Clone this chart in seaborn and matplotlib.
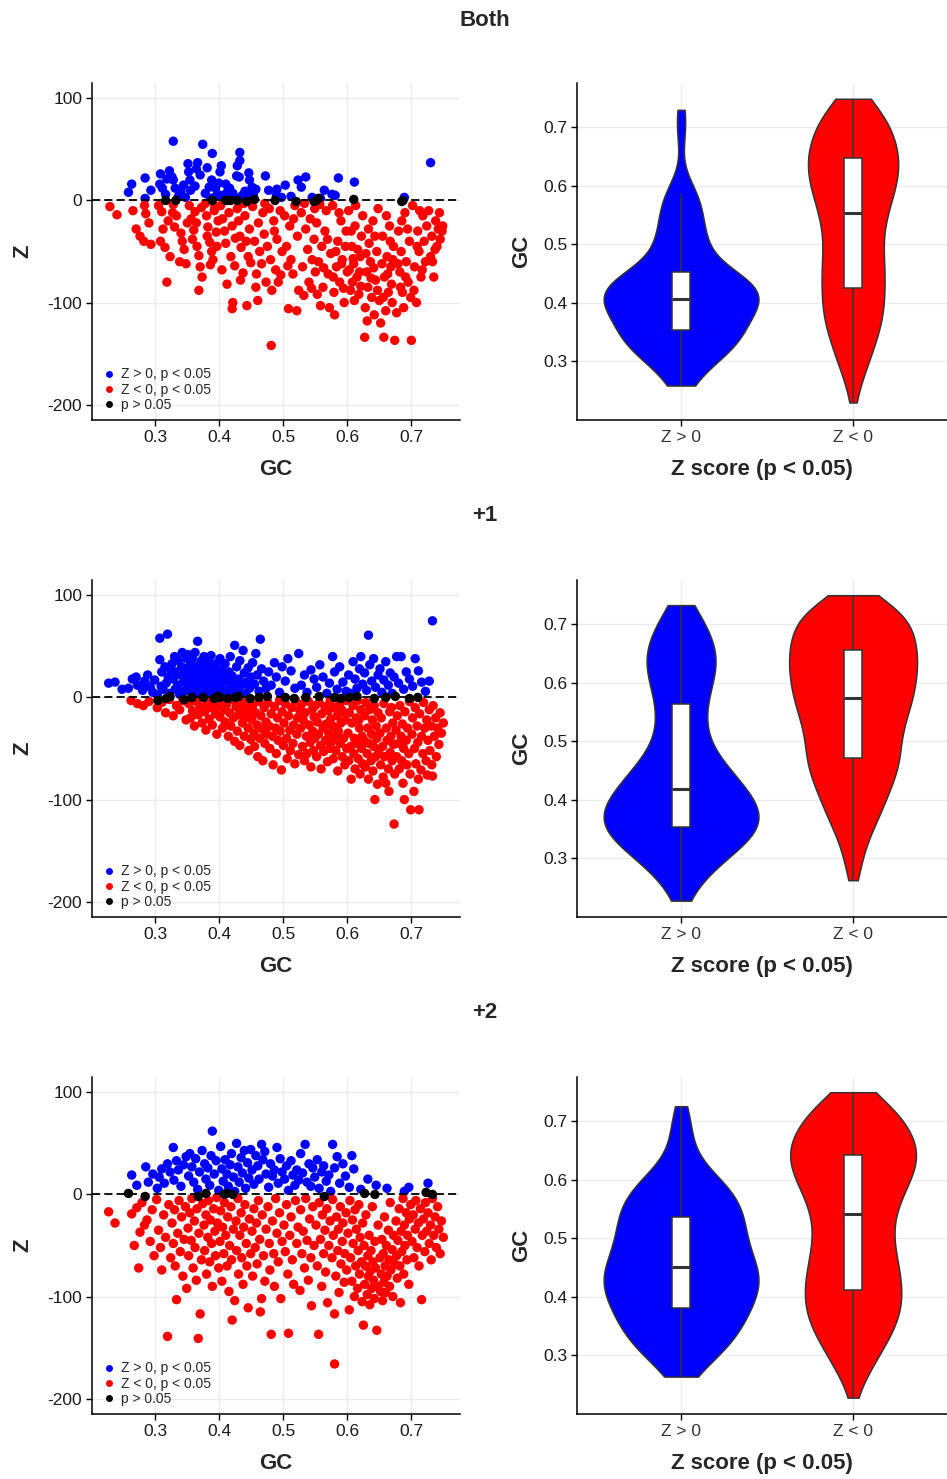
import numpy as np
import pandas as pd
import matplotlib
matplotlib.use("Agg")
import matplotlib.pyplot as plt
import seaborn as sns
from matplotlib.lines import Line2D

sns.set_theme(style="whitegrid")
plt.rcParams["font.family"] = ["Liberation Sans", "DejaVu Sans"]

# ---------------- data: (GC, Z) pairs ----------------
panel_titles = ["Both", "+1", "+2"]
class_labels = ["Z > 0, p < 0.05", "Z < 0, p < 0.05", "p > 0.05"]
violin_labels = ["Z > 0", "Z < 0"]
x_ticks = [0.3, 0.4, 0.5, 0.6, 0.7]
x_tick_labels = ["0.3", "0.4", "0.5", "0.6", "0.7"]
z_ticks = [100, 0, -100, -200]
z_tick_labels = ["100", "0", "-100", "-200"]

both_pos = [(.258,8),(.263,16),(.284,22),(.284,2),(.293,10),(.307,16),(.308,26),(.311,12),(.316,6),(.322,29),(.318,21),
    (.328,58),(.326,23),(.328,20),(.331,12),(.336,4),(.344,15),(.340,9),(.347,3),
    (.351,36),(.352,28),(.354,20),(.355,10),(.362,14),(.364,31),(.366,37),(.370,25),(.374,55),
    (.378,7),(.381,32),(.384,13),(.388,20),(.389,46),(.394,12),(.392,3),(.397,6),(.386,2),(.399,17),
    (.401,28),(.403,34),(.405,5),(.410,16),(.413,9),(.416,12),(.419,4),(.421,7),(.424,3),(.408,2),(.418,2),
    (.427,24),(.428,34),(.431,23),(.432,39),(.432,47),(.440,9),(.447,20),(.436,5),(.442,3),(.446,27),(.449,8),
    (.451,13),(.457,11),(.453,6),(.472,24),(.477,10),(.490,11),(.489,5),(.497,3),
    (.503,15),(.523,20),(.512,4),(.535,23),(.528,13),(.545,3),(.564,10),(.558,2),
    (.576,6),(.586,22),(.581,5),(.611,18),(.689,3),(.730,37)]
both_neg = [(.229,-6),(.240,-14),(.265,-10),(.270,-28),(.276,-35),(.283,-5),(.285,-13),(.282,-40),(.293,-43),(.290,-22),
    (.305,-5),(.310,-11),(.312,-28),(.308,-40),(.315,-46),(.320,-20),(.318,-80),(.323,-55),
    (.328,-4),(.333,-15),(.330,-26),(.340,-32),(.345,-48),(.338,-60),(.348,-62),(.342,-40),(.327,-12),(.350,-22),
    (.353,-5),(.356,-18),(.360,-29),(.358,-38),(.362,-11),(.365,-45),(.368,-54),(.370,-65),(.372,-7),(.368,-88),(.373,-75),(.364,-22),
    (.378,-3),(.380,-15),(.382,-26),(.385,-41),(.388,-50),(.390,-58),(.392,-10),(.395,-31),(.398,-20),(.386,-63),(.396,-45),(.381,-35),(.393,-6),
    (.402,-5),(.405,-18),(.404,-68),(.408,-30),(.410,-42),(.412,-82),(.415,-12),(.418,-55),(.420,-25),(.421,-100),(.420,-106),(.424,-64),(.425,-37),
    (.428,-8),(.430,-20),(.432,-35),(.434,-46),(.437,-71),(.440,-15),(.443,-103),(.445,-55),(.447,-28),(.449,-61),(.438,-3),(.442,-40),(.433,-78),
    (.452,-6),(.455,-40),(.458,-72),(.460,-98),(.461,-22),(.463,-50),(.466,-62),(.468,-12),(.470,-33),(.473,-80),(.475,-45),(.457,-85),(.471,-3),
    (.478,-8),(.481,-142),(.480,-58),(.482,-88),(.485,-20),(.488,-68),(.490,-38),(.492,-80),(.495,-10),(.498,-50),(.486,-30),(.496,-73),
    (.502,-15),(.505,-45),(.508,-106),(.510,-25),(.512,-58),(.515,-72),(.518,-5),(.521,-108),(.522,-35),(.524,-88),(.507,-64),(.516,-18),
    (.528,-12),(.530,-65),(.532,-93),(.535,-28),(.538,-48),(.540,-80),(.542,-18),(.545,-58),(.548,-38),(.550,-70),(.549,-8),(.533,-3),(.544,-86),
    (.552,-22),(.555,-60),(.558,-103),(.560,-45),(.562,-85),(.565,-30),(.567,-10),(.570,-72),(.572,-105),(.574,-52),(.557,-4),(.563,-66),(.569,-38),(.553,-92),
    (.577,-5),(.580,-112),(.579,-90),(.583,-65),(.585,-40),(.588,-80),(.590,-20),(.592,-58),(.595,-100),(.598,-30),(.600,-70),(.582,-50),(.587,-12),(.594,-86),(.597,-45),(.578,-75),(.591,-62),
    (.602,-10),(.605,-88),(.607,-45),(.610,-62),(.612,-25),(.615,-75),(.618,-92),(.620,-55),(.622,-35),(.624,-15),(.608,-80),(.616,-48),(.603,-68),(.611,-98),(.619,-70),(.606,-30),(.613,-5),(.621,-84),(.609,-57),
    (.627,-134),(.628,-105),(.630,-70),(.632,-85),(.634,-42),(.636,-60),(.638,-95),(.640,-20),(.642,-112),(.644,-78),(.646,-50),(.648,-8),(.650,-98),(.633,-28),(.641,-66),(.647,-88),(.629,-52),(.637,-76),(.643,-35),(.631,-118),
    (.652,-120),(.655,-35),(.657,-134),(.658,-75),(.660,-108),(.662,-55),(.664,-90),(.666,-25),(.668,-65),(.670,-100),(.672,-45),(.674,-137),(.661,-15),(.669,-82),(.654,-62),(.663,-72),(.671,-58),(.656,-95),(.667,-40),
    (.677,-110),(.680,-30),(.682,-70),(.684,-50),(.686,-90),(.688,-105),(.690,-12),(.692,-60),(.695,-80),(.697,-40),(.700,-137),(.699,-95),(.685,-20),(.679,-62),(.691,-75),(.694,-28),(.683,-85),
    (.702,-5),(.705,-65),(.708,-100),(.710,-30),(.712,-50),(.715,-75),(.718,-15),(.720,-40),(.722,-60),(.724,-25),(.704,-88),(.713,-10),(.717,-68),(.709,-45),
    (.727,-10),(.730,-55),(.732,-35),(.735,-75),(.738,-20),(.740,-45),(.742,-28),(.745,-38),(.748,-30),(.749,-25),(.733,-60),(.737,-48),(.744,-12)]
both_ns = [(.316,0),(.332,0),(.389,0),(.410,0),(.413,0),(.418,0),(.428,0),(.443,-1),(.455,1),(.487,0),(.520,-1),(.548,-1),(.552,0),(.555,2),(.610,1),(.685,-1),(.687,0)]

p1_pos = [(.227,14),(.237,15),(.248,8),(.258,9),(.264,18),(.270,20),(.272,12),
    (.280,7),(.283,16),(.286,13),(.288,22),(.292,10),(.296,5),(.299,17),
    (.303,3),(.307,58),(.307,37),(.310,25),(.312,8),(.315,30),(.317,14),(.319,62),(.320,20),(.322,4),(.324,27),(.309,11),
    (.326,33),(.328,18),(.330,40),(.331,8),(.333,25),(.335,12),(.336,36),(.338,3),(.339,22),(.341,30),(.342,44),(.344,15),(.345,6),(.346,28),(.348,20),(.349,38),(.334,10),
    (.351,42),(.352,11),(.353,25),(.355,33),(.356,5),(.357,18),(.358,38),(.360,28),(.361,14),(.362,44),(.363,8),(.365,22),(.366,55),(.367,31),(.369,3),(.370,17),(.372,36),(.373,25),(.374,12),
    (.376,40),(.377,6),(.378,20),(.380,30),(.381,13),(.383,35),(.384,9),(.385,24),(.387,41),(.388,16),(.390,4),(.391,28),(.393,19),(.395,33),(.396,11),(.397,7),(.399,23),(.386,2),
    (.401,38),(.402,14),(.404,27),(.406,8),(.407,20),(.409,33),(.411,5),(.413,16),(.415,25),(.417,40),(.418,10),(.420,21),(.422,3),(.424,51),(.423,13),
    (.427,30),(.429,7),(.431,18),(.432,36),(.434,12),(.437,46),(.439,24),(.441,4),(.443,15),(.445,29),(.447,9),(.449,20),
    (.452,34),(.455,13),(.457,43),(.459,22),(.462,6),(.464,57),(.466,28),(.469,16),(.473,9),
    (.477,25),(.481,12),(.486,34),(.489,20),(.494,5),(.498,30),
    (.503,16),(.507,38),(.512,26),(.518,9),(.524,43),
    (.528,12),(.533,22),(.537,5),(.543,27),(.548,18),
    (.552,10),(.557,32),(.562,20),(.568,4),(.572,14),
    (.577,40),(.580,25),(.584,8),(.588,30),(.593,15),(.598,6),
    (.602,22),(.605,4),(.609,35),(.612,18),(.615,9),(.619,28),(.621,40),(.624,13),
    (.627,24),(.630,7),(.633,61),(.635,32),(.638,16),(.641,38),(.644,10),(.648,22),
    (.651,28),(.654,5),(.657,17),(.660,35),(.664,12),(.667,24),(.670,4),(.673,20),
    (.677,40),(.680,14),(.684,40),(.688,8),(.692,25),(.697,18),
    (.702,11),(.706,38),(.711,26),(.716,15),(.722,6),(.728,16),(.733,75)]
p1_neg = [(.262,-3),(.272,-6),(.281,-8),(.290,-4),(.303,-10),(.310,-5),(.316,-15),(.322,-2),
    (.328,-18),(.333,-8),(.338,-12),(.343,-3),(.348,-22),
    (.352,-6),(.355,-20),(.358,-13),(.361,-28),(.364,-4),(.367,-17),(.370,-9),(.373,-25),
    (.377,-14),(.379,-32),(.381,-5),(.384,-21),(.386,-10),(.389,-27),(.391,-3),(.394,-16),(.396,-36),(.399,-8),
    (.401,-19),(.403,-4),(.405,-30),(.407,-12),(.409,-24),(.411,-7),(.414,-38),(.416,-15),(.418,-28),(.420,-2),(.422,-20),(.424,-43),
    (.426,-9),(.428,-33),(.430,-17),(.432,-47),(.434,-4),(.436,-25),(.437,-12),(.439,-38),(.441,-20),(.443,-6),(.445,-30),(.446,-52),(.448,-14),(.449,-41),
    (.451,-22),(.452,-8),(.454,-35),(.455,-48),(.457,-15),(.459,-27),(.460,-58),(.462,-4),(.463,-40),(.465,-18),(.467,-31),(.468,-62),(.470,-10),(.471,-45),(.473,-24),(.474,-36),
    (.476,-5),(.478,-28),(.479,-50),(.481,-16),(.483,-38),(.484,-66),(.486,-9),(.488,-30),(.489,-55),(.491,-20),(.492,-42),(.494,-3),(.495,-33),(.497,-71),(.498,-14),(.500,-47),
    (.501,-25),(.503,-6),(.505,-40),(.506,-60),(.508,-18),(.510,-32),(.511,-52),(.513,-10),(.515,-45),(.516,-27),(.518,-65),(.519,-3),(.521,-36),(.522,-20),(.524,-56),(.525,-12),
    (.527,-30),(.528,-7),(.530,-48),(.531,-22),(.533,-62),(.534,-15),(.536,-38),(.537,-55),(.539,-4),(.540,-27),(.542,-44),(.543,-68),(.545,-12),(.546,-33),(.547,-52),(.548,-19),(.549,-40),(.550,-8),
    (.552,-58),(.553,-24),(.555,-36),(.556,-5),(.558,-47),(.559,-70),(.560,-16),(.562,-30),(.563,-53),(.565,-9),(.566,-42),(.567,-26),(.569,-63),(.570,-13),(.571,-35),(.572,-50),(.573,-3),(.574,-21),(.575,-44),
    (.577,-28),(.578,-60),(.579,-10),(.581,-38),(.582,-52),(.584,-18),(.585,-72),(.586,-33),(.588,-6),(.589,-45),(.590,-25),(.592,-58),(.593,-14),(.594,-40),(.596,-66),(.597,-22),(.598,-3),(.599,-50),(.583,-30),(.591,-12),
    (.601,-35),(.602,-62),(.603,-15),(.605,-48),(.606,-80),(.607,-25),(.609,-8),(.610,-55),(.611,-40),(.612,-70),(.614,-20),(.615,-45),(.616,-3),(.617,-60),(.619,-30),(.620,-75),(.621,-12),(.622,-50),(.623,-38),(.624,-65),(.618,-22),
    (.626,-42),(.627,-18),(.628,-68),(.629,-5),(.631,-55),(.632,-30),(.633,-80),(.634,-45),(.635,-12),(.637,-62),(.638,-36),(.639,-22),(.640,-72),(.641,-48),(.642,-8),(.643,-100),(.644,-58),(.645,-28),(.646,-40),(.647,-85),(.648,-15),(.649,-52),
    (.651,-35),(.652,-66),(.653,-20),(.655,-48),(.656,-78),(.657,-6),(.658,-58),(.660,-84),(.661,-30),(.662,-42),(.664,-70),(.665,-92),(.666,-14),(.667,-54),(.668,-38),(.670,-62),(.671,-25),(.672,-46),(.673,-124),(.674,-75),(.669,-10),
    (.676,-32),(.677,-58),(.678,-18),(.680,-45),(.681,-70),(.682,-8),(.684,-38),(.685,-62),(.686,-26),(.687,-84),(.688,-50),(.689,-100),(.690,-14),(.692,-42),(.693,-66),(.694,-30),(.696,-55),(.697,-4),(.699,-110),(.698,-75),
    (.701,-36),(.702,-20),(.704,-92),(.705,-50),(.706,-10),(.707,-65),(.709,-28),(.710,-44),(.711,-80),(.712,-110),(.713,-16),(.715,-71),(.716,-38),(.718,-55),(.719,-5),(.721,-30),(.723,-62),(.724,-22),
    (.725,-76),(.726,-42),(.728,-12),(.729,-52),(.731,-28),(.732,-66),(.733,-77),(.734,-8),(.736,-38),(.738,-20),(.739,-58),(.741,-30),(.743,-46),(.745,-15),(.747,-35),(.750,-25)]
p1_ns = [(.304,-3),(.317,-1),(.323,1),(.345,-2),(.357,0),(.375,0),(.392,-1),(.397,1),(.401,0),(.413,-1),(.425,0),(.430,1),(.448,-1),(.462,0),
    (.475,1),(.503,0),(.517,-1),(.535,0),(.556,1),(.580,0),(.590,-1),(.603,0),(.615,1),(.642,-1),(.660,0),(.675,1),(.697,-1),(.710,0)]

p2_pos = [(.263,19),(.271,9),(.285,27),(.289,12),(.296,20),
    (.303,6),(.306,17),(.310,25),(.314,11),(.319,30),(.323,22),
    (.328,46),(.329,14),(.333,33),(.336,24),(.340,8),(.344,29),(.348,37),
    (.352,18),(.354,40),(.357,27),(.360,12),(.363,35),(.366,5),(.369,22),(.373,43),
    (.377,30),(.379,15),(.382,26),(.385,9),(.387,38),(.389,62),(.392,20),(.395,33),(.399,4),
    (.402,47),(.404,25),(.406,13),(.409,34),(.412,20),(.414,8),(.417,29),(.419,40),(.422,17),(.424,3),
    (.427,50),(.429,27),(.431,12),(.434,36),(.436,21),(.439,43),(.441,6),(.444,31),(.446,16),(.449,44),
    (.451,24),(.454,10),(.457,38),(.460,28),(.462,15),(.466,49),(.468,34),(.471,42),(.473,20),
    (.477,7),(.480,30),(.483,18),(.486,24),(.490,46),(.492,11),(.495,35),(.498,22),
    (.502,15),(.505,28),(.508,4),(.512,33),(.515,19),(.518,9),(.521,24),(.524,14),
    (.527,40),(.530,21),(.534,49),(.537,12),(.540,30),(.543,8),(.546,26),(.549,17),
    (.553,34),(.556,6),(.560,22),(.563,28),(.567,13),(.571,19),(.574,3),
    (.577,49),(.580,26),(.584,37),(.588,11),(.593,30),(.597,18),
    (.603,7),(.607,38),(.610,25),(.621,5),(.632,15),(.645,9),(.662,6),(.689,3),(.696,7),(.726,11)]
p2_neg = [(.227,-17),(.237,-28),(.263,-19),(.267,-50),(.271,-13),(.274,-72),
    (.276,-37),(.279,-8),(.283,-30),(.287,-25),(.292,-46),(.295,-15),(.298,-60),
    (.302,-5),(.305,-35),(.308,-52),(.310,-74),(.313,-20),(.316,-42),(.319,-139),(.321,-10),(.324,-62),
    (.326,-28),(.328,-48),(.330,-15),(.331,-70),(.333,-103),(.335,-38),(.337,-6),(.339,-56),(.341,-22),(.343,-80),(.345,-44),(.347,-12),(.349,-92),
    (.351,-33),(.352,-60),(.354,-18),(.356,-45),(.357,-4),(.359,-72),(.361,-26),(.362,-52),(.364,-84),(.365,-14),(.367,-141),(.368,-38),(.370,-117),(.372,-64),(.374,-9),
    (.376,-30),(.377,-55),(.379,-20),(.380,-78),(.382,-42),(.383,-6),(.385,-66),(.386,-25),(.388,-48),(.389,-90),(.391,-14),(.393,-36),(.394,-60),(.396,-3),(.397,-28),(.399,-72),
    (.401,-46),(.402,-16),(.404,-85),(.405,-32),(.407,-58),(.408,-8),(.410,-40),(.412,-70),(.413,-22),(.415,-95),(.416,-50),(.418,-12),(.419,-64),(.420,-123),(.422,-34),(.424,-104),
    (.426,-26),(.427,-55),(.429,-4),(.430,-78),(.432,-40),(.434,-18),(.435,-62),(.437,-88),(.438,-32),(.440,-10),(.442,-48),(.443,-70),(.445,-111),(.447,-24),(.449,-58),
    (.451,-36),(.452,-80),(.454,-14),(.456,-52),(.458,-28),(.459,-68),(.461,-6),(.463,-44),(.464,-115),(.466,-102),(.467,-20),(.469,-60),(.471,-85),(.473,-34),
    (.476,-12),(.478,-48),(.479,-74),(.481,-137),(.483,-26),(.485,-58),(.486,-90),(.488,-4),(.490,-38),(.492,-66),(.494,-18),(.496,-102),(.498,-46),
    (.501,-30),(.503,-56),(.505,-10),(.507,-78),(.508,-136),(.510,-40),(.512,-22),(.514,-64),(.516,-88),(.519,-6),(.521,-48),(.523,-32),
    (.526,-94),(.527,-15),(.529,-58),(.531,-36),(.533,-72),(.535,-4),(.537,-45),(.539,-84),(.541,-24),(.543,-62),(.544,-109),(.546,-12),(.548,-50),
    (.551,-30),(.553,-70),(.555,-137),(.556,-8),(.558,-44),(.560,-90),(.561,-20),(.563,-58),(.565,-35),(.566,-76),(.568,-14),(.569,-106),(.571,-50),(.573,-26),
    (.576,-62),(.577,-5),(.578,-40),(.580,-117),(.580,-166),(.582,-80),(.583,-22),(.585,-55),(.586,-34),(.587,-96),(.589,-12),(.590,-68),(.592,-46),(.593,-28),(.595,-86),(.596,-58),(.598,-18),(.599,-74),
    (.601,-38),(.603,-113),(.604,-6),(.605,-62),(.607,-85),(.608,-25),(.609,-48),(.611,-100),(.612,-15),(.613,-70),(.614,-34),(.616,-92),(.617,-55),(.618,-10),(.619,-78),(.620,-42),(.622,-66),(.623,-105),(.624,-28),(.625,-128),
    (.626,-50),(.627,-88),(.628,-70),(.629,-20),(.631,-98),(.632,-60),(.633,-80),(.634,-40),(.635,-108),(.636,-75),(.637,-55),(.638,-92),(.639,-12),(.640,-66),(.641,-84),(.642,-102),(.643,-46),(.644,-72),(.646,-133),(.647,-90),(.648,-30),
    (.651,-62),(.652,-95),(.653,-78),(.654,-44),(.655,-104),(.656,-58),(.657,-86),(.658,-22),(.659,-70),(.660,-96),(.661,-50),(.662,-80),(.664,-35),(.665,-64),(.666,-90),(.667,-8),(.668,-74),(.670,-54),(.671,-100),(.672,-40),(.674,-68),
    (.676,-26),(.677,-60),(.678,-82),(.679,-45),(.681,-14),(.682,-70),(.683,-106),(.684,-36),(.685,-56),(.687,-4),(.688,-78),(.689,-30),(.690,-50),(.692,-18),(.693,-64),(.694,-40),(.696,-88),(.697,-24),(.699,-10),
    (.701,-46),(.703,-20),(.704,-62),(.706,-34),(.707,-6),(.709,-52),(.711,-28),(.712,-70),(.714,-14),(.716,-103),(.717,-40),(.719,-24),(.721,-56),(.722,-8),(.724,-36),
    (.726,-18),(.728,-48),(.730,-30),(.731,-64),(.733,-4),(.735,-40),(.737,-22),(.739,-52),(.741,-12),(.743,-34),(.745,-58),(.747,-26),(.750,-42)]
p2_ns = [(.258,1),(.284,-2),(.367,-2),(.379,1),(.408,0),(.411,1),(.421,0),(.564,-2),(.627,1),(.643,0),(.723,2),(.733,0)]

panel_data = {"Both": (both_pos, both_neg, both_ns),
              "+1": (p1_pos, p1_neg, p1_ns),
              "+2": (p2_pos, p2_neg, p2_ns)}

# ---------------- styling ----------------
pt_colors = ["#0000FF", "#FF0000", "#000000"]
grid_col = "#EBEBEB"
W, H = 947, 1479
fig = plt.figure(figsize=(W / 100, H / 100), dpi=100)

axes_top_px = [83, 580, 1077]
title_y_px = [20, 516, 1013]
ax_h_px = 337

def style_axes(ax):
    for s in ["top", "right"]:
        ax.spines[s].set_visible(False)
    for s in ["left", "bottom"]:
        ax.spines[s].set_visible(True)
        ax.spines[s].set_color("black")
        ax.spines[s].set_linewidth(1.1)
    ax.set_facecolor("white")
    ax.grid(True, color=grid_col, linewidth=1.0)
    ax.set_axisbelow(True)
    ax.tick_params(axis="both", which="major", length=4, width=1, color="black",
                   bottom=True, left=True, labelsize=12.5, labelcolor="#1a1a1a", pad=3)

for i, name in enumerate(panel_titles):
    pos, neg, ns = panel_data[name]
    bottom = 1 - (axes_top_px[i] + ax_h_px) / H
    ax = fig.add_axes([92 / W, bottom, 368 / W, ax_h_px / H])
    av = fig.add_axes([577 / W, bottom, 370 / W, ax_h_px / H])
    fig.text(485 / W, 1 - title_y_px[i] / H, name, ha="center", va="center",
             fontsize=16, fontweight="bold")

    # scatter
    frames = []
    for lab, pts in zip(class_labels, (pos, neg, ns)):
        arr = np.array(pts, dtype=float)
        frames.append(pd.DataFrame({"GC": arr[:, 0], "Z": arr[:, 1], "cls": lab}))
    df = pd.concat(frames, ignore_index=True)
    sns.scatterplot(data=df, x="GC", y="Z", hue="cls", hue_order=class_labels,
                    palette=dict(zip(class_labels, pt_colors)), s=46, linewidth=0,
                    alpha=1, legend=False, ax=ax)
    ax.axhline(0, color="black", linewidth=1.3, linestyle=(0, (4.5, 2.3)), zorder=5)
    ax.set_xlim(0.201, 0.776)
    ax.set_ylim(-215, 115)
    ax.set_xticks(x_ticks)
    ax.set_xticklabels(x_tick_labels)
    ax.set_yticks(z_ticks)
    ax.set_yticklabels(z_tick_labels)
    style_axes(ax)
    ax.set_xlabel("GC", fontsize=16, fontweight="bold", labelpad=10)
    ax.set_ylabel("Z", fontsize=16, fontweight="bold", labelpad=10)
    handles = [Line2D([0], [0], marker="o", linestyle="", markersize=5,
                      markerfacecolor=c, markeredgewidth=0) for c in pt_colors]
    ax.legend(handles, class_labels, loc="lower left", bbox_to_anchor=(0.012, 0.0),
              frameon=False, fontsize=10, handlelength=0.6, handletextpad=0.55,
              labelspacing=0.08, borderaxespad=0.4, borderpad=0.2)

    # violins
    vframes = []
    for lab, pts in zip(violin_labels, (pos, neg)):
        arr = np.array(pts, dtype=float)
        vframes.append(pd.DataFrame({"GC": arr[:, 0], "grp": lab}))
    dv = pd.concat(vframes, ignore_index=True)
    sns.violinplot(data=dv, x="grp", y="GC", hue="grp", order=violin_labels,
                   hue_order=violin_labels,
                   palette={"Z > 0": "#0000FF", "Z < 0": "#FF0000"}, saturation=1,
                   cut=0, inner=None, density_norm="area", common_norm=True,
                   width=0.9, bw_adjust=0.8,
                   linewidth=1.1, linecolor="#333333", legend=False, ax=av)
    sns.boxplot(data=dv, x="grp", y="GC", order=violin_labels, width=0.1, color="white",
                linecolor="#333333", linewidth=1.1, showfliers=False, showcaps=False,
                saturation=1, medianprops={"linewidth": 2.2}, ax=av)
    av.set_xlim(-0.605, 1.546)
    av.set_ylim(0.199, 0.776)
    av.set_yticks(x_ticks)
    av.set_yticklabels(x_tick_labels)
    style_axes(av)
    av.tick_params(axis="x", labelcolor="#333333")
    av.set_xlabel("Z score (p < 0.05)", fontsize=16, fontweight="bold", labelpad=10)
    av.set_ylabel("GC", fontsize=16, fontweight="bold", labelpad=8)

fig.savefig("out.png", dpi=100, facecolor="white")
